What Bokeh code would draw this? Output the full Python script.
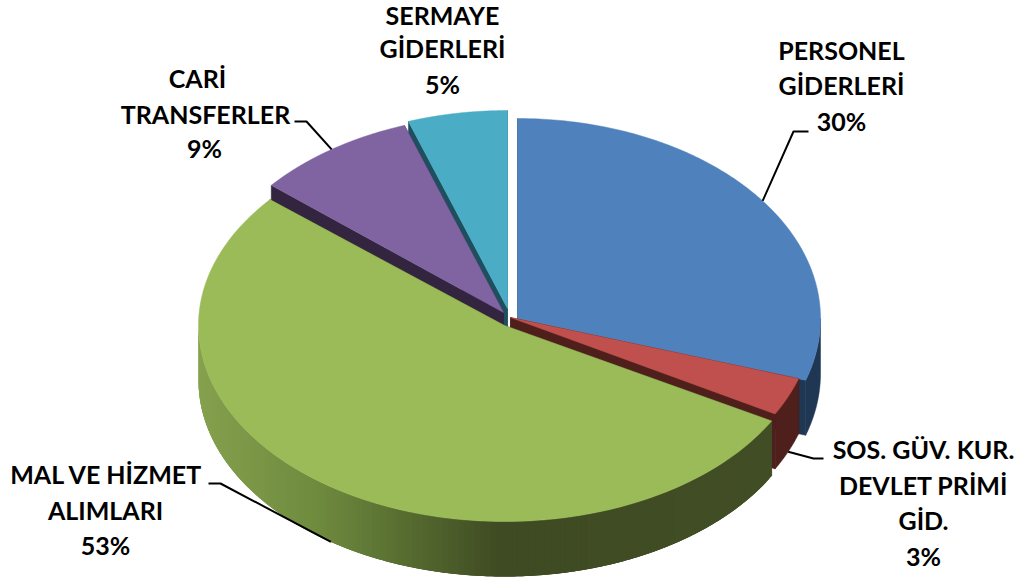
import numpy as np
from bokeh.plotting import figure
from bokeh.models import Range1d
from bokeh.core.properties import value
from bokeh.embed import file_html
from bokeh.resources import INLINE

# ---- data
categories = ["PERSONEL GİDERLERİ", "SOS. GÜV. KUR. DEVLET PRİMİ GİD.", "MAL VE HİZMET ALIMLARI",
              "CARİ TRANSFERLER", "SERMAYE GİDERLERİ"]
percents = [30.0, 3.1, 53.0, 8.6, 5.3]
label_lines = [["PERSONEL", "GİDERLERİ", "30%"],
               ["SOS. GÜV. KUR.", "DEVLET PRİMİ", "GİD.", "3%"],
               ["MAL VE HİZMET", "ALIMLARI", "53%"],
               ["CARİ", "TRANSFERLER", "9%"],
               ["SERMAYE", "GİDERLERİ", "5%"]]

# ---- style / layout
top_colors = ["#4f81bd", "#c0504d", "#9bbb59", "#8064a2", "#4bacc6"]
wall_colors = ["#1f3753", "#4f1f1c", "#3f4b23", "#33243f", "#1d4f5e"]
centers = [(517, 318), (510, 317), (504, 325), (503, 312), (507, 308)]
RXS = [303, 303, 306, 303, 303]
RYS = [200, 198, 196, 198, 198]
DEPTH = 55
label_pos = [[(841, 49), (841, 84), (841, 120)],
             [(923, 448), (923, 484), (923, 519), (923, 555)],
             [(106, 473), (105, 509), (105, 544)],
             [(197, 77), (205, 113), (204, 147)],
             [(442, 14), (442, 47), (442, 83)]]
# elbow, then the text end of each leader line
leaders = [[(793, 131), (808, 131)], [(813, 458), (823, 458)], [(220, 483), (208, 483)],
           [(306, 121), (294, 121)], None]
leader_on_wall = [False, True, True, False, False]
green_x = [198, 330, 420, 510, 770]
green_r = [0x86, 0x6e, 0x56, 0x3f, 0x42]
green_g = [0xa2, 0x8a, 0x6b, 0x4b, 0x4e]
green_b = [0x4f, 0x3e, 0x30, 0x23, 0x25]

p = figure(width=1023, height=580, x_range=Range1d(0, 1023), y_range=Range1d(580, 0),
           output_backend="svg", toolbar_location=None, min_border=0)
p.axis.visible = False
p.grid.visible = False
p.outline_line_color = None
p.background_fill_color = "white"

edges = np.concatenate([[0], np.cumsum(percents)]) / sum(percents) * 360.0


def rim(i, deg):
    cx, cy = centers[i]
    t = np.radians(deg)
    return cx + RXS[i] * np.sin(t), cy - RYS[i] * np.cos(t)


def draw_slice(i):
    a0, a1 = edges[i], edges[i + 1]
    cx, cy = centers[i]
    # radial walls
    for a in (a0, a1):
        x, y = rim(i, a)
        p.patch([cx, x, x, cx], [cy, y, y + DEPTH, cy + DEPTH],
                fill_color=wall_colors[i], line_color=wall_colors[i], line_width=0.5)
    # outer wall, only the part that faces the viewer
    lo, hi = max(a0, 90), min(a1, 270)
    if lo < hi:
        if i != 2:
            t = np.linspace(lo, hi, 40)
            x, y = rim(i, t)
            p.patch(np.concatenate([x, x[::-1]]), np.concatenate([y, y[::-1] + DEPTH]),
                    fill_color=wall_colors[i], line_color=wall_colors[i], line_width=0.5)
        else:
            steps = np.linspace(lo, hi, int(hi - lo) + 1)
            xs, ys, cols = [], [], []
            # painted from the right-hand end, each band running under the next one
            for s, e in zip(steps[:-1], steps[1:]):
                t = np.linspace(s, min(e + 2.0, hi), 6)
                x, y = rim(i, t)
                xs.append(np.concatenate([x, x[::-1]]))
                ys.append(np.concatenate([y, y[::-1] + DEPTH]))
                m = rim(i, (s + e) / 2)[0]
                c = [int(np.interp(m, green_x, ch)) for ch in (green_r, green_g, green_b)]
                cols.append("#%02x%02x%02x" % tuple(c))
            p.patches(xs[::-1], ys[::-1], fill_color=cols[::-1], line_color=None)
    # top face
    ang = np.linspace(a0, a1, 160)
    x, y = rim(i, ang)
    p.patch(np.concatenate([[cx], x]), np.concatenate([[cy], y]),
            fill_color=top_colors[i], line_color=top_colors[i], line_width=0.5)


for i in [4, 3, 0, 1, 2]:
    draw_slice(i)

for i, elbow in enumerate(leaders):
    if elbow is None:
        continue
    mid = (edges[i] + edges[i + 1]) / 2
    x, y = rim(i, mid)
    if leader_on_wall[i]:
        y += DEPTH
    p.line([x, elbow[0][0], elbow[1][0]], [y, elbow[0][1], elbow[1][1]],
           line_color="black", line_width=2)

for lines, pos in zip(label_lines, label_pos):
    p.text([q[0] for q in pos], [q[1] for q in pos], text=lines,
           text_font=value("Lato"), text_font_style="bold", text_font_size="25px",
           text_color="black", text_align="center", text_baseline="middle")

html = file_html(p, INLINE)
html = html.replace("<head>", "<head><style>html,body{margin:0;padding:0;overflow:hidden}</style>", 1)
open("out.html", "w").write(html)
